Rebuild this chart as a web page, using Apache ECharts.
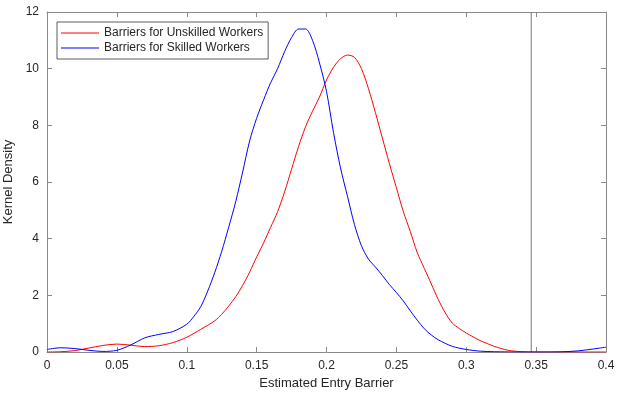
<!DOCTYPE html>
<html><head><meta charset="utf-8">
<script src="https://cdn.jsdelivr.net/npm/echarts@6/dist/echarts.min.js"></script>
<style>html,body{margin:0;padding:0;background:#fff}#c{width:617px;height:393px}</style>
</head><body><div id="c"></div>
<script>
const xTicks = [0, 0.05, 0.1, 0.15, 0.2, 0.25, 0.3, 0.35, 0.4];
const yTicks = [0, 2, 4, 6, 8, 10, 12];
const seriesNames = ['Barriers for Unskilled Workers', 'Barriers for Skilled Workers'];
const refLineX = [0.3465, 0.3465];
const refLineY = [0, 12];

const unskilledX = [0,0.01,0.02,0.03,0.04,0.05,0.06,0.07,0.08,0.09,0.1,0.11,0.12,0.125,0.13,0.135,0.14,0.145,0.15,0.155,0.16,0.165,0.17,0.175,0.18,0.185,0.19,0.195,0.2,0.205,0.21,0.215,0.22,0.225,0.23,0.235,0.24,0.245,0.25,0.255,0.26,0.265,0.27,0.275,0.28,0.285,0.29,0.295,0.3,0.31,0.315,0.32,0.33,0.34,0.35,0.4];
const unskilledY = [0,0.01,0.05,0.14,0.23,0.28,0.24,0.19,0.22,0.33,0.52,0.8,1.1,1.33,1.62,1.95,2.35,2.82,3.35,3.85,4.4,4.95,5.65,6.45,7.25,7.95,8.5,9.0,9.6,10.05,10.35,10.48,10.4,10.0,9.3,8.45,7.55,6.65,5.8,4.95,4.25,3.5,2.95,2.4,1.85,1.38,1.02,0.83,0.67,0.4,0.3,0.2,0.06,0.01,0,0];

const skilledX = [0,0.01,0.02,0.03,0.04,0.05,0.06,0.07,0.08,0.09,0.1,0.105,0.11,0.115,0.12,0.125,0.13,0.135,0.14,0.145,0.15,0.155,0.16,0.165,0.17,0.175,0.18,0.185,0.19,0.195,0.2,0.205,0.21,0.215,0.22,0.225,0.23,0.235,0.24,0.245,0.25,0.255,0.26,0.265,0.27,0.275,0.28,0.29,0.3,0.31,0.32,0.34,0.36,0.37,0.38,0.39,0.4];
const skilledY = [0.09,0.15,0.12,0.06,0.02,0.06,0.25,0.5,0.62,0.72,0.98,1.25,1.6,2.15,2.8,3.55,4.4,5.3,6.35,7.45,8.25,8.9,9.5,10.0,10.6,11.1,11.4,11.4,11.0,10.2,9.2,7.75,6.5,5.5,4.5,3.75,3.28,3.0,2.7,2.38,2.1,1.8,1.45,1.12,0.82,0.6,0.43,0.2,0.09,0.03,0.01,0,0,0.01,0.04,0.1,0.17];

const pair = (xs, ys) => xs.map((x, i) => [x, ys[i]]);
const axisCol = '#8a8a8a';
const txtCol = '#262626';
const font = 'Liberation Sans, Arial, sans-serif';

const baseX = {
  type: 'value', min: 0, max: 0.4, interval: 0.05,
  axisLine: {show: true, onZero: false, lineStyle: {color: axisCol, width: 1}},
  axisTick: {show: true, inside: true, length: 5, lineStyle: {color: axisCol}},
  splitLine: {show: false}
};
const baseY = {
  type: 'value', min: 0, max: 12, interval: 2,
  axisLine: {show: true, onZero: false, lineStyle: {color: axisCol, width: 1}},
  axisTick: {show: true, inside: true, length: 5, lineStyle: {color: axisCol}},
  splitLine: {show: false}
};

const chart = echarts.init(document.getElementById('c'), null, {renderer: 'canvas'});
chart.setOption({
  animation: false,
  backgroundColor: '#fff',
  textStyle: {fontFamily: font},
  grid: {left: 47, right: 11, top: 12, bottom: 41, containLabel: false, outerBoundsMode: 'none'},
  legend: {
    orient: 'vertical', left: 57, top: 22,
    data: seriesNames.map(n => ({name: n, icon: 'rect'})),
    backgroundColor: '#fff', borderColor: '#333', borderWidth: 0.8, borderRadius: 0,
    padding: [4, 5, 4, 4], itemGap: 1, itemWidth: 38, itemHeight: 1.2,
    textStyle: {color: txtCol, fontSize: 12, fontFamily: font, lineHeight: 14}
  },
  xAxis: [
    Object.assign({}, baseX, {
      position: 'bottom',
      name: 'Estimated Entry Barrier', nameLocation: 'middle', nameGap: 25,
      nameTextStyle: {color: txtCol, fontSize: 13, fontFamily: font},
      axisLabel: {color: txtCol, fontSize: 12, fontFamily: font, margin: 8,
        formatter: v => { const s = xTicks.find(t => Math.abs(t - v) < 1e-9); return s === undefined ? '' : String(s); }}
    }),
    Object.assign({}, baseX, {position: 'top', axisLabel: {show: false}})
  ],
  yAxis: [
    Object.assign({}, baseY, {
      position: 'left',
      name: 'Kernel Density', nameLocation: 'middle', nameGap: 28,
      nameTextStyle: {color: txtCol, fontSize: 13, fontFamily: font},
      axisLabel: {color: txtCol, fontSize: 12, fontFamily: font, margin: 8,
        formatter: v => { const s = yTicks.find(t => Math.abs(t - v) < 1e-9); return s === undefined ? '' : String(s); }}
    }),
    Object.assign({}, baseY, {position: 'right', axisLabel: {show: false}})
  ],
  series: [
    {
      name: 'ref', type: 'line', data: pair(refLineX, refLineY),
      symbol: 'none', silent: true, lineStyle: {color: '#777', width: 1}, z: 2
    },
    {
      name: seriesNames[0], type: 'line', data: pair(unskilledX, unskilledY),
      smooth: 0.3, symbol: 'none', lineStyle: {color: '#ff0000', width: 1}, itemStyle: {color: '#ff0000'},
      z: 3
    },
    {
      name: seriesNames[1], type: 'line', data: pair(skilledX, skilledY),
      smooth: 0.3, symbol: 'none', lineStyle: {color: '#0000ff', width: 1}, itemStyle: {color: '#0000ff'},
      z: 4
    }
  ]
});
</script></body></html>
